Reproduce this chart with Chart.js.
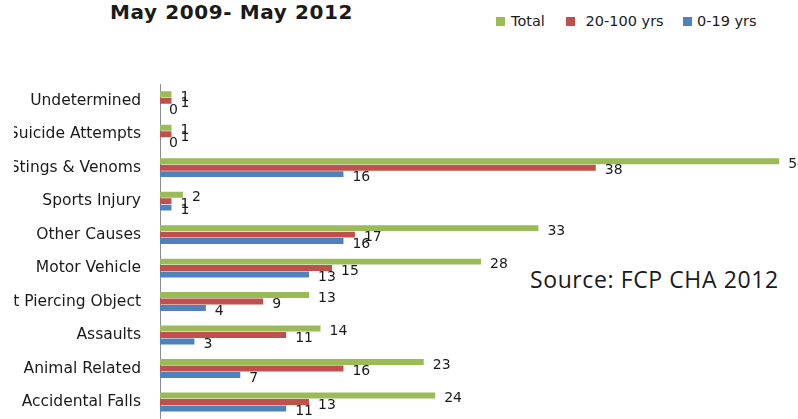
<!DOCTYPE html>
<html>
<head>
<meta charset="utf-8">
<script src="https://cdn.jsdelivr.net/npm/chart.js@4"></script>
<style>
    body { margin: 0; width: 798px; height: 419px; overflow: hidden; position: relative; background: #fff; font-family: 'DejaVu Sans', sans-serif; color: #1a1a1a; }
    #title { position: absolute; left: 110px; top: 0px; font: bold 20px 'DejaVu Sans', sans-serif; letter-spacing: 0.6px; white-space: nowrap; }
    #source { position: absolute; left: 530px; top: 263px; font: 23px 'Open Sans', sans-serif; letter-spacing: 0.6px; white-space: nowrap; }
    .leg { position: absolute; top: 13px; font: 14.5px 'DejaVu Sans', sans-serif; white-space: nowrap; }
    .leg i { position: absolute; top: 4px; width: 9px; height: 9px; }
    #clip { position: absolute; left: 14px; top: 0; width: 784px; height: 419px; overflow: hidden; }
    #injuryChart { position: absolute; left: -54px; top: 0; }
</style>
</head>
<body>
<div id="title">May 2009- May 2012</div>
<div id="legend"></div>
<div id="source">Source: FCP CHA 2012</div>
<div id="clip"><canvas id="injuryChart" width="888" height="447"></canvas></div>
<script>
// Categories, top to bottom
const categories = ['Undetermined', 'Suicide Attempts', 'Stings & Venoms', 'Sports Injury', 'Other Causes',
    'Motor Vehicle', 'Cut Piercing Object', 'Assaults', 'Animal Related', 'Accidental Falls'];

const totalValues = [1, 1, 54, 2, 33, 28, 13, 14, 23, 24];
const adultValues = [1, 1, 38, 1, 17, 15, 9, 11, 16, 13];
const youthValues = [0, 0, 16, 1, 16, 13, 4, 3, 7, 11];

const seriesNames = ['Total', ' 20-100 yrs', '0-19 yrs'];
const seriesColors = ['#9bbb59', '#c0504d', '#4f81bd'];

// legend item x positions (square left edge, text left edge)
const legendPos = [[496, 511], [566, 581], [683, 697]];

// HTML legend
const legendEl = document.getElementById('legend');
seriesNames.forEach((name, i) => {
    const item = document.createElement('div');
    item.className = 'leg';
    item.style.left = legendPos[i][0] + 'px';
    item.innerHTML = `<i style="background:${seriesColors[i]}"></i><span style="margin-left:${legendPos[i][1] - legendPos[i][0]}px;white-space:pre">${name}</span>`;
    legendEl.appendChild(item);
});

// Value labels just past the end of each bar
const valueLabels = {
    id: 'valueLabels',
    afterDatasetsDraw(chart) {
        const ctx = chart.ctx;
        ctx.save();
        ctx.font = '14px "DejaVu Sans"';
        ctx.fillStyle = '#1a1a1a';
        ctx.textAlign = 'left';
        ctx.textBaseline = 'middle';
        chart.data.datasets.forEach((ds, i) => {
            chart.getDatasetMeta(i).data.forEach((bar, j) => {
                ctx.fillText(String(ds.data[j]), bar.x + 9, bar.y + 3);
            });
        });
        ctx.restore();
    }
};

const values = [totalValues, adultValues, youthValues];

new Chart(document.getElementById('injuryChart'), {
    type: 'bar',
    data: {
        labels: categories,
        datasets: values.map((data, i) => ({
            label: seriesNames[i].trim(),
            data: data,
            backgroundColor: seriesColors[i],
            borderWidth: 0,
            categoryPercentage: 0.58,
            barPercentage: 0.92
        }))
    },
    options: {
        indexAxis: 'y',
        responsive: false,
        animation: false,
        devicePixelRatio: 1,
        layout: { padding: { top: 84, left: 0, right: 0, bottom: 0 } },
        plugins: {
            legend: { display: false },
            title: { display: false },
            tooltip: { enabled: false }
        },
        scales: {
            x: {
                display: false,
                min: 0,
                max: 60
            },
            y: {
                afterFit(scale) { scale.width = 200; },
                grid: { display: false, drawTicks: false },
                border: { display: true, color: '#8c8c8c', width: 1 },
                ticks: {
                    color: '#1a1a1a',
                    padding: 19,
                    font: { family: 'DejaVu Sans', size: 15.5 }
                }
            }
        }
    },
    plugins: [valueLabels]
});
</script>
</body>
</html>
